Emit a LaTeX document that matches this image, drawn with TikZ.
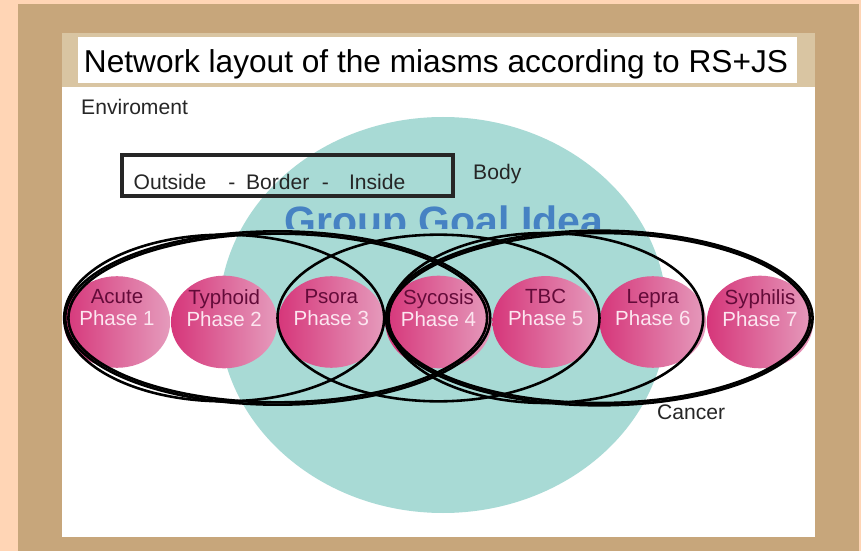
\documentclass[tikz,border=0pt]{standalone}
\usepackage{fontspec}
\setmainfont{Liberation Sans}
\usepackage{tkz-graph}
\usetikzlibrary{shapes.geometric,calc}

\definecolor{peach}{HTML}{FFD5B5}
\definecolor{cardboard}{HTML}{C7A67B}
\definecolor{paperband}{HTML}{D9C5A2}
\definecolor{bodyteal}{HTML}{A8DAD5}
\definecolor{goalblue}{HTML}{4682C3}
\definecolor{miasmpink}{HTML}{D6367A}
\definecolor{miasmlight}{HTML}{E59BBC}
\definecolor{miasmname}{HTML}{630B39}
\definecolor{phasetext}{HTML}{FCE6F0}
\definecolor{inkgray}{HTML}{262626}

\newcommand{\miasmlabel}[2]{\textcolor{miasmname}{#1}\\\textcolor{phasetext}{Phase #2}\\\strut}

\begin{document}
\begin{tikzpicture}
	\SetGraphUnit{3.215}
\tikzset{VertexStyle/.style =
		{shape = ellipse,
		minimum width = 3.12cm,
		minimum height = 2.72cm,
		inner sep = 0pt,
		align = center,
		font = \fontsize{17.5}{18.8}\selectfont,
		left color = miasmpink,
		right color = miasmlight,
		draw = none},
	LoopStyle/.style = {draw = black, line width = 2.2pt},
	PlainText/.style = {inner sep = 0pt, text = inkgray, font = \fontsize{18}{20}\selectfont}}

	\useasboundingbox (0,0) rectangle (25.83,16.53);
	% board and paper
	\fill[peach] (0,0) rectangle (25.83,16.53);
	\fill[cardboard] (0.54,0) rectangle (25.77,16.41);
	\fill[paperband] (1.86,13.92) rectangle (24.45,15.54);
	\fill[white] (1.86,0.42) rectangle (24.45,13.92);
	\fill[white] (2.34,14.04) rectangle (23.91,15.42);

	\node[anchor=base, inner sep=0pt, text=black, font=\fontsize{27}{30}\selectfont] (title) at (13.08,14.34)
		{Network layout of the miasms according to RS+JS};
	\node[PlainText, anchor=base west] (enviroment) at (2.43,13.08) {Enviroment};

	% the body
	\fill[bodyteal] (13.29,7.08) ellipse [x radius=6.72, y radius=5.94];
	\begin{scope}
		\clip (0,9.66) rectangle (25.83,16.53);
		\node[anchor=base, inner sep=0pt, text=goalblue, font=\fontsize{35}{38}\selectfont\bfseries] (goal) at (13.32,9.45) {Group Goal Idea};
	\end{scope}

	\node[draw=inkgray, line width=2.7pt, minimum width=9.93cm, minimum height=1.23cm] (borderbox) at (8.625,11.265) {};
	\node[PlainText, anchor=base west] (bordertext) at ($(borderbox.south west)+(0.39,0.24)$)
		{Outside\hspace{1.05em}-\hspace{0.5em}Border\hspace{0.6em}-\hspace{0.95em}Inside};
	\node[PlainText, anchor=base west] (body) at (14.19,11.13) {Body};

	% the seven miasms
	\Vertex[x=3.51,y=6.87,L={\miasmlabel{Acute}{1}}]{Acute}
	\EA[L={\miasmlabel{Typhoid}{2}}](Acute){Typhoid}
	\EA[L={\miasmlabel{Psora}{3}}](Typhoid){Psora}
	\EA[L={\miasmlabel{Sycosis}{4}}](Psora){Sycosis}
	\EA[L={\miasmlabel{TBC}{5}}](Sycosis){TBC}
	\EA[L={\miasmlabel{Lepra}{6}}](TBC){Lepra}
	\EA[L={\miasmlabel{Syphilis}{7}}](Lepra){Syphilis}

	% groups drawn round them
	\coordinate (AcutePsora) at ($(Acute)!0.5!(Psora)+(0,0.12)$);
	\coordinate (AcuteSycosis) at ($(Acute)!0.5!(Sycosis)+(0,0.12)$);
	\coordinate (PsoraTBC) at ($(Psora)!0.5!(TBC)+(0,0.12)$);
	\coordinate (SycosisLepra) at ($(Sycosis)!0.5!(Lepra)+(0,0.12)$);
	\coordinate (SycosisSyphilis) at ($(Sycosis)!0.5!(Syphilis)+(0,0.12)$);
	\draw[LoopStyle] (AcutePsora) ellipse [x radius=4.8, y radius=2.5];
	\draw[LoopStyle] (AcuteSycosis) ellipse [x radius=6.375, y radius=2.6];
	\draw[LoopStyle] (AcuteSycosis) ellipse [x radius=6.28, y radius=2.53];
	\draw[LoopStyle] (PsoraTBC) ellipse [x radius=4.83, y radius=2.5];
	\draw[LoopStyle] (SycosisLepra) ellipse [x radius=4.725, y radius=2.55];
	\draw[LoopStyle] (SycosisSyphilis) ellipse [x radius=6.4, y radius=2.62];
	\draw[LoopStyle] (SycosisSyphilis) ellipse [x radius=6.32, y radius=2.55];

	\node[PlainText, anchor=base west] (cancer) at (19.71,3.96) {Cancer};
\end{tikzpicture}
\end{document}
